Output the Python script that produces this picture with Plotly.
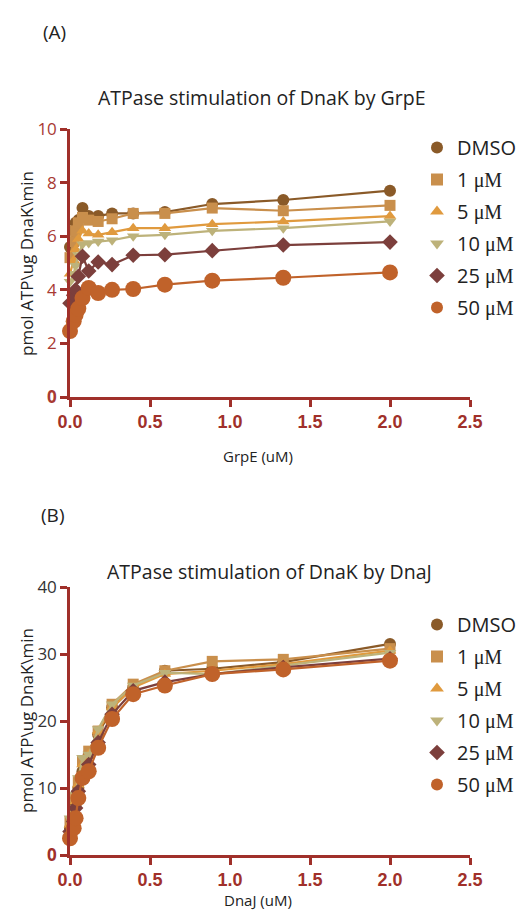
import plotly.graph_objects as go

W, H = 528, 911

# ---------------- data ----------------
conc_uM = [0, 0.023, 0.035, 0.052, 0.078, 0.117, 0.176, 0.263, 0.395, 0.593, 0.889, 1.333, 2.0]
series_names = ["DMSO", "1 μM", "5 μM", "10 μM", "25 μM", "50 μM"]

grpe_dmso = [5.6, 6.2, 6.5, 6.6, 7.05, 6.75, 6.75, 6.85, 6.85, 6.9, 7.2, 7.35, 7.7]
grpe_1 = [5.2, 5.8, 6.2, 6.5, 6.7, 6.6, 6.55, 6.65, 6.85, 6.85, 7.05, 6.95, 7.15]
grpe_5 = [4.6, 5.1, 5.5, 5.9, 6.2, 6.1, 6.05, 6.15, 6.3, 6.3, 6.45, 6.55, 6.75]
grpe_10 = [4.3, 4.6, 4.9, 5.3, 5.7, 5.75, 5.8, 5.85, 6.0, 6.05, 6.2, 6.3, 6.55]
grpe_25 = [3.5, 3.8, 4.0, 4.5, 5.25, 4.7, 5.04, 4.94, 5.29, 5.31, 5.46, 5.67, 5.78]
grpe_50 = [2.46, 2.83, 3.07, 3.3, 3.69, 4.07, 3.88, 4.0, 4.03, 4.19, 4.34, 4.45, 4.65]

dnaj_dmso = [4.0, 5.5, 7.5, 10.0, 12.5, 15.0, 18.0, 22.0, 25.0, 27.5, 27.8, 28.8, 31.5]
dnaj_1 = [5.0, 6.5, 8.5, 11.0, 14.0, 15.5, 18.5, 22.5, 25.5, 27.5, 28.9, 29.2, 30.8]
dnaj_5 = [4.5, 6.0, 8.0, 10.5, 13.5, 15.0, 18.5, 22.0, 25.0, 27.0, 27.5, 28.5, 30.5]
dnaj_10 = [5.5, 7.0, 9.0, 11.5, 14.5, 15.0, 18.8, 22.5, 25.3, 27.2, 27.0, 28.3, 30.2]
dnaj_25 = [3.5, 5.0, 7.0, 9.5, 11.5, 13.5, 16.8, 21.0, 24.5, 25.8, 27.0, 28.0, 29.3]
dnaj_50 = [2.5, 4.0, 5.5, 8.5, 11.5, 12.5, 16.0, 20.3, 24.0, 25.3, 27.0, 27.7, 29.0]

x_ticks = [0, 0.5, 1.0, 1.5, 2.0, 2.5]
x_ticklabels = ["0.0", "0.5", "1.0", "1.5", "2.0", "2.5"]
yA_ticks = [0, 2, 4, 6, 8, 10]
yB_ticks = [0, 10, 20, 30, 40]

# ---------------- style ----------------
colors = ["#8a5a28", "#c98f4c", "#e09a3e", "#bdb27a", "#7c3f3c", "#c0622a"]
symbols = ["circle", "square", "triangle-up", "triangle-down", "diamond", "circle"]
sizes = [12, 11, 11, 11, 12, 16]
AXC = "#a0302a"
TICKFONT = "Liberation Sans, Arial, sans-serif"
TXTFONT = "Open Sans, Noto Sans, sans-serif"


def px(x):
    return x / W


def py(y):
    return 1 - y / H


def legend_name(n):
    if "μM" in n:
        num = n.split(" ")[0]
        return num + " <span style='font-family:Liberation Serif, serif'>μM</span>"
    return n


fig = go.Figure()

for p, (data, xa, ya, leg) in enumerate([
    ([grpe_dmso, grpe_1, grpe_5, grpe_10, grpe_25, grpe_50], "x", "y", "legend"),
    ([dnaj_dmso, dnaj_1, dnaj_5, dnaj_10, dnaj_25, dnaj_50], "x2", "y2", "legend2"),
]):
    for i, vals in enumerate(data):
        grp = "%s_%d" % (leg, i)
        fig.add_trace(go.Scatter(
            x=conc_uM, y=vals, xaxis=xa, yaxis=ya, legend=leg, legendgroup=grp,
            showlegend=False, mode="lines", hoverinfo="skip",
            line=dict(color=colors[i], width=2.2),
            cliponaxis=False,
        ))
        fig.add_trace(go.Scatter(
            x=conc_uM, y=vals, xaxis=xa, yaxis=ya, legend=leg, legendgroup=grp,
            name=legend_name(series_names[i]), mode="markers",
            marker=dict(symbol=symbols[i], size=sizes[i], color=colors[i]),
            cliponaxis=False,
        ))

xdom = [px(62), px(462)]
common_x = dict(range=[0, 2.5], tickvals=x_ticks,
                ticktext=["<b>%s</b>" % t for t in x_ticklabels],
                showline=True, linecolor=AXC, linewidth=2.5,
                ticks="outside", ticklen=7, tickwidth=2.5, tickcolor=AXC,
                tickfont=dict(family=TICKFONT, size=18, color=AXC),
                showgrid=False, zeroline=False, fixedrange=True, automargin=False)
common_y = dict(showline=True, linecolor=AXC, linewidth=2.5,
                ticks="outside", ticklen=7, tickwidth=2.5, tickcolor=AXC,
                showgrid=False, zeroline=False, fixedrange=True, automargin=False)

yA_text = ["<b>0</b>"] + [str(v) for v in yA_ticks[1:]]
yB_text = ["<b><span style='color:%s'>0</span></b>" % AXC] + [str(v) for v in yB_ticks[1:]]

leg_common = dict(xanchor="left", yanchor="top",
                  font=dict(family=TXTFONT, size=20, color="#222222"),
                  bgcolor="rgba(0,0,0,0)", itemsizing="constant", tracegroupgap=3)

fig.update_layout(
    width=W, height=H,
    margin=dict(l=0, r=0, t=0, b=0, autoexpand=False),
    paper_bgcolor="white", plot_bgcolor="white",
    showlegend=True,
    xaxis=dict(domain=xdom, anchor="y", **common_x),
    yaxis=dict(domain=[py(389), py(121)], anchor="x", range=[0, 10],
               tickvals=yA_ticks, ticktext=yA_text,
               tickfont=dict(family=TXTFONT, size=17, color="#a83a33"), **common_y),
    xaxis2=dict(domain=xdom, anchor="y2", **common_x),
    yaxis2=dict(domain=[py(847), py(579)], anchor="x2", range=[0, 40],
                tickvals=yB_ticks, ticktext=yB_text,
                tickfont=dict(family=TXTFONT, size=17, color="#333333"), **common_y),
    legend=dict(x=px(409), y=py(120), **leg_common),
    legend2=dict(x=px(409), y=py(597), **leg_common),
)

ann = []


def text(x, y, s, size, angle=0, xanchor="center"):
    ann.append(dict(x=px(x), y=py(y), xref="paper", yref="paper", text=s,
                    showarrow=False, textangle=angle, xanchor=xanchor, yanchor="middle",
                    font=dict(family=TXTFONT, size=size, color="#222222")))


text(33, 24, "(A)", 19, xanchor="left")
text(254, 90, "ATPase stimulation of DnaK by GrpE", 19.5)
text(250, 448, "GrpE (uM)", 15)
text(18, 256, "pmol ATP\\ug DnaK\\min", 17, angle=-90)

text(31, 507, "(B)", 19, xanchor="left")
text(261, 563, "ATPase stimulation of DnaK by DnaJ", 19.5)
text(250, 892, "DnaJ (uM)", 15)
text(18, 713, "pmol ATP\\ug DnaK\\min", 17, angle=-90)

fig.update_layout(annotations=ann)

fig.write_html("out.html")
